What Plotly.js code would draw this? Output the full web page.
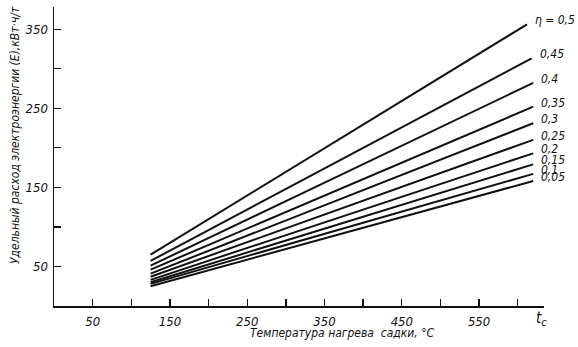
<!DOCTYPE html>
<html><head><meta charset="utf-8">
<script src="https://cdn.plot.ly/plotly-3.0.1.min.js"></script>
<style>html,body{margin:0;padding:0;background:#fff}#c{width:578px;height:347px}</style>
</head><body><div id="c"></div>
<script>
const etaLabels = ['η = 0,5','0,45','0,4','0,35','0,3','0,25','0,2','0,15','0,1','0,05'];
const xStart = [125,125,125,125,125,125,125,125,125,125];
const xEnd = [612,618,620,620,620,620,620,620,620,620];
const yStart = [65,57,51,46,41,37,33,30,28,25];
const yEnd = [356,313,282,252,231,210,193,179,167,158];
const xTickVals = [50,100,150,200,250,300,350,400,450,500,550,600];
const xTickText = ['50','','150','','250','','350','','450','','550',''];
const yTickVals = [50,100,150,200,250,300,350];
const yTickText = ['50','','150','','250','','350'];
const xTitle = 'Температура нагрева  садки, °С';
const yTitle = 'Удельный расход электроэнергии (E),кВт·ч/т';
const xUnit = 't<sub>c</sub>';

const FONT = '"DejaVu Sans Condensed","Liberation Sans Narrow","DejaVu Sans",sans-serif';
const traces = etaLabels.map((n,i)=>({
  type:'scatter', mode:'lines', x:[xStart[i],xEnd[i]], y:[yStart[i],yEnd[i]],
  line:{color:'#111',width:2}, hoverinfo:'skip', showlegend:false
}));
const annotations = etaLabels.map((n,i)=>({
  x:xEnd[i], y:yEnd[i], xref:'x', yref:'y', text:n, showarrow:false,
  xanchor:'left', yanchor:'middle', xshift:6, yshift:4,
  font:{family:FONT, size:12, color:'#111', style:'italic'}
}));
annotations.push({xref:'paper',yref:'paper',x:(342-54)/490,y:-(333-306)/299,text:xTitle,showarrow:false,
  xanchor:'center',yanchor:'middle',font:{family:FONT,size:12,color:'#111',style:'italic'}});
annotations.push({xref:'paper',yref:'paper',x:(15-54)/490,y:(306-135)/299,text:yTitle,showarrow:false,textangle:-90,
  xanchor:'center',yanchor:'middle',font:{family:FONT,size:12,color:'#111',style:'italic'}});
annotations.push({xref:'paper',yref:'paper',x:(541-54)/490,y:-(318-306)/299,text:xUnit,showarrow:false,
  xanchor:'center',yanchor:'middle',font:{family:FONT,size:15,color:'#111',style:'italic'}});

const layout = {
  width:578, height:347, margin:{l:54,r:34,t:7,b:41},
  paper_bgcolor:'#fff', plot_bgcolor:'#fff', showlegend:false,
  xaxis:{range:[0,634], showgrid:false, zeroline:false, showline:true, linecolor:'#111', linewidth:1.5,
    ticks:'inside', ticklen:7, tickwidth:1.3, tickcolor:'#111', tickmode:'array', tickvals:xTickVals, ticktext:xTickText,
    tickfont:{family:FONT,size:13,color:'#111',style:'italic'}, ticklabelstandoff:3, fixedrange:true},
  yaxis:{range:[0,378], showgrid:false, zeroline:false, showline:true, linecolor:'#111', linewidth:1.5,
    ticks:'inside', ticklen:7, tickwidth:1.3, tickcolor:'#111', tickmode:'array', tickvals:yTickVals, ticktext:yTickText,
    tickfont:{family:FONT,size:13,color:'#111',style:'italic'}, ticklabelstandoff:2, fixedrange:true},
  annotations:annotations
};
Plotly.newPlot('c', traces, layout, {staticPlot:true, displayModeBar:false});
</script></body></html>
